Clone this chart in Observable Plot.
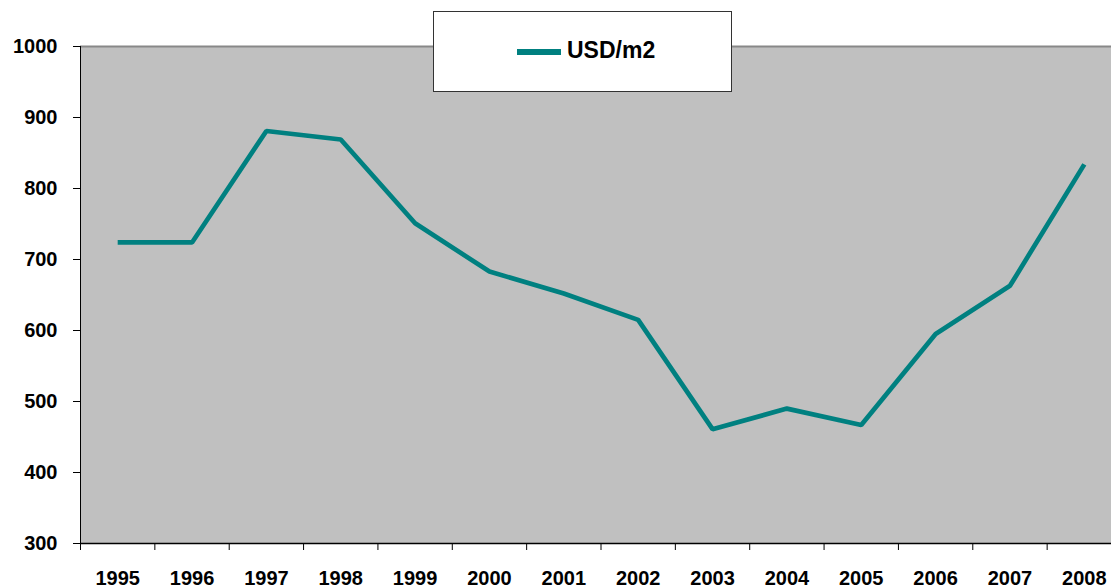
<!DOCTYPE html>
<html>
<head>
<meta charset="utf-8">
<script src="https://cdn.jsdelivr.net/npm/d3@7"></script>
<script src="https://cdn.jsdelivr.net/npm/@observablehq/plot@0.6"></script>
<style>
  html, body { margin: 0; padding: 0; background: #fff; overflow: hidden; }
  #wrap { position: relative; width: 1111px; height: 587px; }
  #legend {
    position: absolute; left: 433px; top: 11px; width: 297px; height: 79px;
    background: #fff; border: 1px solid #333; box-sizing: content-box;
    font-family: "Liberation Sans", Arial, sans-serif; font-weight: bold; font-size: 23px;
  }
  #legend .sw { position: absolute; left: 83px; top: 37px; width: 44px; height: 6px; background: #008080; }
  #legend .lbl { position: absolute; left: 133px; top: 25px; line-height: 26px; color: #000; }
</style>
</head>
<body>
<div id="wrap">
  <div id="chart"></div>
  <div id="legend"><div class="sw"></div><div class="lbl">USD/m2</div></div>
</div>
<script>
const years = [1995,1996,1997,1998,1999,2000,2001,2002,2003,2004,2005,2006,2007,2008];
const usdPerM2 = [724,724,881,869,751,683,652,615,461,490,467,595,663,834];
const yTicks = [300,400,500,600,700,800,900,1000];
const seriesName = "USD/m2";

const data = years.map((y, i) => ({year: y, value: usdPerM2[i]}));
const boundaries = years.map(y => y - 0.5);

const W = 1111, H = 587, mT = 46, mB = 44, mL = 80, mR = -10;

const chart = Plot.plot({
  width: W, height: H,
  marginTop: mT, marginBottom: mB, marginLeft: mL, marginRight: mR,
  style: {
    fontFamily: '"Liberation Sans", Arial, sans-serif',
    fontSize: "20px", fontWeight: "bold", color: "#000", background: "transparent", overflow: "visible"
  },
  x: {
    type: "linear", domain: [years[0] - 0.5, years[years.length-1] + 0.5],
    ticks: years, tickSize: 0, tickPadding: 27, tickFormat: d => String(d), label: null
  },
  y: {
    domain: [300, 1000], ticks: yTicks, tickSize: 7, tickPadding: 16, tickFormat: d => String(d), label: null
  },
  marks: [
    Plot.frame({fill: "#C0C0C0", stroke: null}),
    Plot.ruleY([1000], {stroke: "#888", strokeWidth: 2}),
    Plot.ruleX(boundaries, {x: d => d, stroke: "#000", strokeWidth: 1, insetTop: H - mT - mB, insetBottom: -7}),
    Plot.ruleX([years[0] - 0.5], {stroke: "#000", strokeWidth: 1}),
    Plot.ruleY([300], {stroke: "#000", strokeWidth: 1.5}),
    Plot.line(data, {x: "year", y: "value", stroke: "#008080", strokeWidth: 4.7, strokeLinejoin: "miter", strokeLinecap: "butt"})
  ]
});
document.getElementById("chart").appendChild(chart);
</script>
</body>
</html>
